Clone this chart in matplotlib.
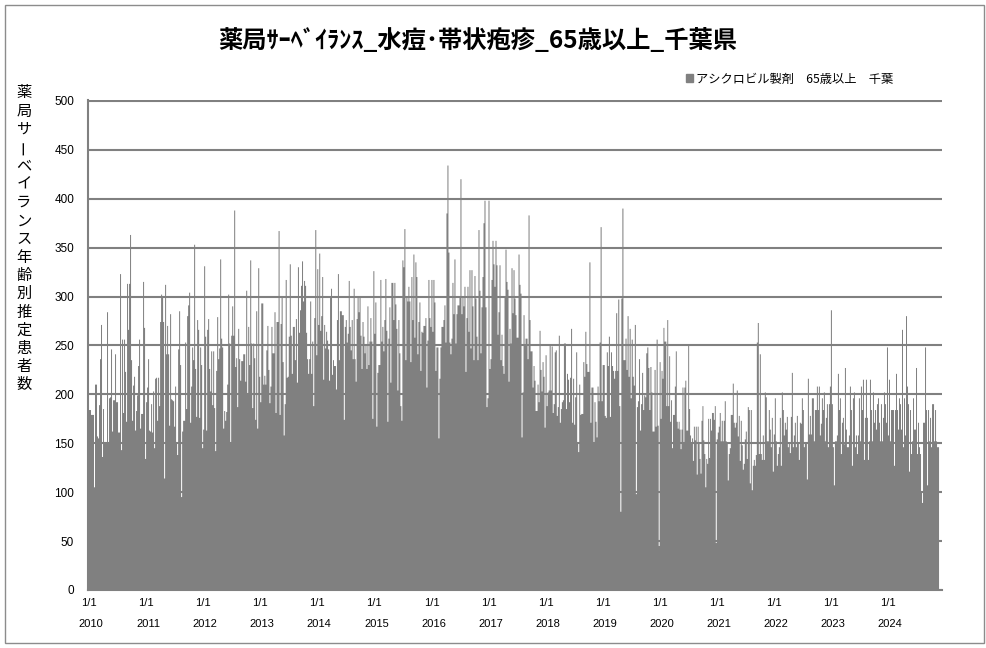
import numpy as np
import matplotlib
matplotlib.use("Agg")
import matplotlib.pyplot as plt
from matplotlib.patches import Rectangle, Patch

plt.rcParams['font.family'] = ['Noto Sans CJK JP', 'DejaVu Sans']

# ---- data: estimated values, roughly one per ~6.4 days, per year ----
v2010 = [184,184,184,179,179,179,105,210,210,157,155,189,236,271,136,185,151,151,150,284,151,196,197,246,162,194,194,241,192,192,161,161,323,143,256,181,256,223,172,313,266,313,363,235,173,209,218,163,183,199,229,256,165,180,180,315,268]
v2011 = [134,192,207,236,163,162,190,161,203,145,216,217,173,217,188,274,302,299,274,114,312,241,270,241,168,282,195,194,193,167,208,151,138,246,285,230,95,162,173,173,253,185,280,291,304,171,208,248,235,353,226,177,276,266,176,248,230]
v2012 = [145,164,331,259,163,266,277,226,203,244,189,244,186,142,224,279,236,247,338,257,248,165,183,173,182,210,302,252,151,260,290,260,388,228,237,187,267,236,214,234,234,241,241,213,306,201,269,230,337,252,186,252,237,174,285,165,329]
v2013 = [218,192,293,293,210,219,210,245,270,225,191,208,269,242,242,284,181,274,274,367,179,272,300,233,158,190,317,217,218,259,333,260,221,269,269,235,277,212,330,263,286,311,336,295,316,311,263,236,221,236,295,221,254,188,278,368]
v2014 = [240,328,271,344,265,280,320,215,271,247,264,255,246,214,299,308,220,235,229,229,205,276,323,235,285,285,281,281,174,269,276,253,262,316,269,245,276,236,308,236,213,277,299,284,299,260,226,274,259,242,250,226,290,230,254,278,254,175]
v2015 = [326,262,294,167,222,230,230,317,254,269,244,276,318,265,172,257,289,212,314,314,276,314,292,267,204,276,242,188,173,337,330,369,235,300,295,310,295,233,320,276,343,258,335,320,241,274,294,224,264,263,270,270,278,207,255,317,278]
v2016 = [269,317,264,317,294,224,248,248,155,216,248,269,269,276,291,253,385,434,345,253,241,257,314,282,338,252,282,291,291,299,420,282,299,290,310,223,278,310,264,327,247,327,290,235,321,298,259,235,368,306,242,289,320,375,398,289,187]
v2017 = [196,398,226,236,317,357,333,310,357,332,261,284,332,235,261,229,221,299,348,315,307,213,267,252,329,283,327,298,281,258,258,343,312,303,156,202,281,250,257,257,236,383,276,244,244,207,229,214,183,183,210,192,265,225,203,233,218]
v2018 = [166,240,188,202,204,250,204,249,181,190,243,245,178,187,260,171,185,192,194,252,252,185,221,215,192,217,267,171,216,169,197,243,151,141,210,179,180,180,233,218,264,231,223,223,335,171,207,207,151,192,172,156,208,193,253,371]
v2019 = [193,230,230,178,176,243,229,259,177,243,229,224,216,224,283,224,297,188,80,298,390,235,235,257,225,280,218,267,196,256,218,209,271,98,187,193,236,163,190,222,184,199,197,242,248,227,184,228,202,162,162,225,167,256,168]
v2020 = [45,233,175,224,216,268,254,254,188,276,188,239,172,194,145,179,179,208,244,172,165,172,164,144,164,207,151,207,214,163,163,250,185,158,151,155,132,167,153,167,118,167,151,134,119,173,188,153,139,105,134,129,175,135,175,163,181,181,174,188]
v2021 = [48,154,161,167,181,152,173,152,173,193,152,151,112,139,145,179,179,211,171,166,171,204,157,178,132,173,148,123,129,154,162,134,187,184,109,184,102,127,133,127,138,253,273,139,241,139,133,158,133,202,197,152,152,184,164,146,176]
v2022 = [121,159,196,152,127,139,146,176,127,202,184,158,171,164,177,146,151,140,177,222,146,158,171,146,178,151,133,171,170,196,184,146,151,151,113,216,159,178,159,196,196,152,184,184,208,184,208,158,170,196,184,202,152,176,190,146,190]
v2023 = [208,286,190,146,107,152,152,158,221,184,196,139,171,176,149,227,164,146,146,158,208,184,127,196,202,146,158,139,158,196,152,208,184,215,133,176,215,176,133,152,215,184,152,202,171,184,164,190,196,171,152,190,152,176,202,190,171]
v2024 = [248,158,215,152,184,184,184,127,184,221,184,164,196,190,164,266,146,196,158,280,208,190,121,184,139,152,196,164,164,227,139,171,146,139,100,89,171,171,248,184,107,184,152,176,146,190,190,152,184,152,146,146]

years = list(range(2010, 2025))
series = [v2010, v2011, v2012, v2013, v2014, v2015, v2016, v2017, v2018,
          v2019, v2020, v2021, v2022, v2023, v2024]
tick_top = "1/1"
title = "薬局ｻｰﾍﾞｲﾗﾝｽ_水痘･帯状疱疹_65歳以上_千葉県"
legend_label = "アシクロビル製剤　65歳以上　千葉"
ylabel = "薬局サーベイランス年齢別推定患者数"

# build step edges (each year's samples spread over that year; last year partial)
values = []
edges = [float(years[0])]
for y, vals in zip(years, series):
    n = len(vals) if y != 2024 else 57
    for i, v in enumerate(vals):
        values.append(v)
        edges.append(y + (i + 1) / n)

W, H = 987, 648
fig = plt.figure(figsize=(W / 100, H / 100), dpi=100)
fig.patches.append(Rectangle((5 / W, 5 / H), 979 / W, 638 / H, transform=fig.transFigure,
                             fill=False, edgecolor='#8c8c8c', lw=1.0))

ax = fig.add_axes([88 / W, 1 - 590 / H, (942 - 88) / W, (590 - 100) / H])
ax.stairs(values, edges, fill=True, color='#808080', lw=0, zorder=2)

ax.set_xlim(2010, 2010 + (942 - 88) / 57.07)
ax.set_ylim(0, 501)
ax.set_yticks(range(0, 501, 50))
ax.yaxis.grid(True, color='#808080', lw=1.5)
ax.set_axisbelow(True)
for s in ['top', 'right']:
    ax.spines[s].set_visible(False)
for s in ['left', 'bottom']:
    ax.spines[s].set_color('#808080')
    ax.spines[s].set_linewidth(1.5)
ax.tick_params(axis='y', length=0, pad=10, labelsize=8.5)
for lab in ax.get_yticklabels():
    lab.set_fontfamily('Liberation Sans')
ax.set_xticks(years)
ax.set_xticklabels([])
ax.tick_params(axis='x', length=0)

for y in years:
    ax.annotate(tick_top, xy=(y, 0), xycoords=('data', 'axes fraction'),
                xytext=(1, -13), textcoords='offset pixels', ha='center', va='center',
                fontsize=8, family='Liberation Sans')
    ax.annotate(str(y), xy=(y, 0), xycoords=('data', 'axes fraction'),
                xytext=(3, -34), textcoords='offset pixels', ha='center', va='center',
                fontsize=8, family='Liberation Sans')

fig.text(478 / W, 1 - 40 / H, title, ha='center', va='center', fontsize=17.5, fontweight='bold')

fig.legend(handles=[Patch(color='#808080', label=legend_label)], loc='center left',
           bbox_to_anchor=(686 / W, 1 - 79 / H), frameon=False, fontsize=8.8,
           handlelength=0.55, handleheight=0.55, handletextpad=0.3, borderpad=0, borderaxespad=0)

for i, ch in enumerate(ylabel):
    fig.text(24 / W, 1 - (93 + i * 18.25) / H, ch, ha='center', va='center', fontsize=11,
             rotation=90 if ch == 'ー' else 0, rotation_mode='anchor')

fig.savefig('out.png', dpi=100)
